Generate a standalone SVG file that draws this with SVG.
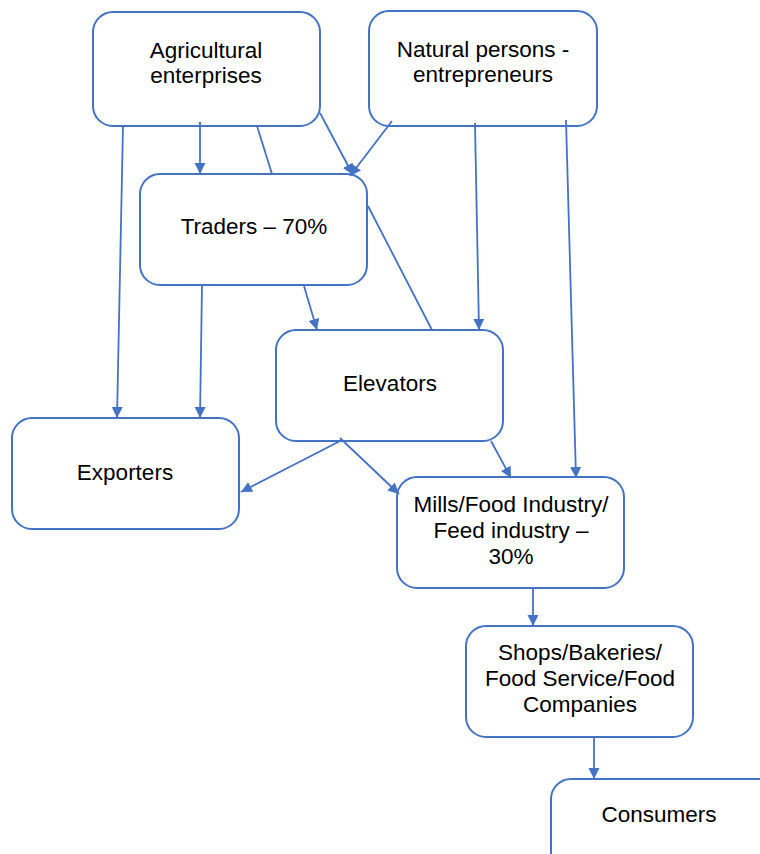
<svg xmlns="http://www.w3.org/2000/svg" width="760" height="854" viewBox="0 0 760 854">
<style>
.box{fill:#fff;stroke:#4472C4;stroke-width:2}
.lbl{font-family:"Liberation Sans",Arial,sans-serif;font-size:22.5px;fill:#000;text-anchor:middle}
.c{stroke:#4472C4;stroke-width:1.8;fill:none}
.a{marker-end:url(#ah)}
</style>
<defs>
<marker id="ah" markerUnits="userSpaceOnUse" markerWidth="12" markerHeight="12" refX="11" refY="6" orient="auto" viewBox="0 0 12 12">
<path d="M0,0.5 L11,6 L0,11.5 z" fill="#4472C4"/>
</marker>
</defs>
<g id="agri"><rect class="box" x="93" y="12" width="227" height="114" rx="20"/><text class="lbl" x="206" y="58">Agricultural</text><text class="lbl" x="206" y="83">enterprises</text></g>
<g id="natural"><rect class="box" x="369" y="11" width="228" height="115" rx="20"/><text class="lbl" x="483" y="57">Natural persons -</text><text class="lbl" x="483" y="82">entrepreneurs</text></g>
<g id="traders"><rect class="box" x="140" y="174" width="227" height="111" rx="20"/><text class="lbl" x="254" y="234">Traders – 70%</text></g>
<g id="elevators"><rect class="box" x="276" y="330" width="227" height="111" rx="20"/><text class="lbl" x="390" y="391">Elevators</text></g>
<g id="exporters"><rect class="box" x="12" y="418" width="227" height="111" rx="20"/><text class="lbl" x="125" y="480">Exporters</text></g>
<g id="mills"><rect class="box" x="397" y="477" width="227" height="111" rx="20"/><text class="lbl" x="511" y="512">Mills/Food Industry/</text><text class="lbl" x="511" y="538">Feed industry –</text><text class="lbl" x="511" y="564">30%</text></g>
<g id="shops"><rect class="box" x="466" y="626" width="227" height="111" rx="20"/><text class="lbl" x="580" y="660">Shops/Bakeries/</text><text class="lbl" x="580" y="686">Food Service/Food</text><text class="lbl" x="580" y="712">Companies</text></g>
<g id="consumers"><rect class="box" x="551" y="779" width="227" height="111" rx="20"/><text class="lbl" x="659" y="822">Consumers</text></g>
<g id="connectors">
<line class="c a" x1="123" y1="126" x2="117" y2="418"/>
<line class="c a" x1="200" y1="122" x2="200" y2="174"/>
<line class="c" x1="257" y1="126" x2="272" y2="174"/>
<line class="c a" x1="320" y1="113" x2="353" y2="175"/>
<line class="c a" x1="392" y1="121" x2="350" y2="176"/>
<line class="c a" x1="475" y1="123" x2="479" y2="330"/>
<line class="c a" x1="566" y1="120" x2="576" y2="478"/>
<line class="c a" x1="202" y1="285" x2="200" y2="418"/>
<line class="c a" x1="304" y1="286" x2="317" y2="330"/>
<line class="c" x1="368" y1="206" x2="432" y2="330"/>
<line class="c a" x1="342" y1="440" x2="241" y2="492"/>
<line class="c a" x1="340" y1="438" x2="399" y2="494"/>
<line class="c a" x1="491" y1="441" x2="511" y2="478"/>
<line class="c a" x1="533" y1="588" x2="533" y2="626"/>
<line class="c a" x1="594" y1="737" x2="594" y2="779"/>
</g>
</svg>
